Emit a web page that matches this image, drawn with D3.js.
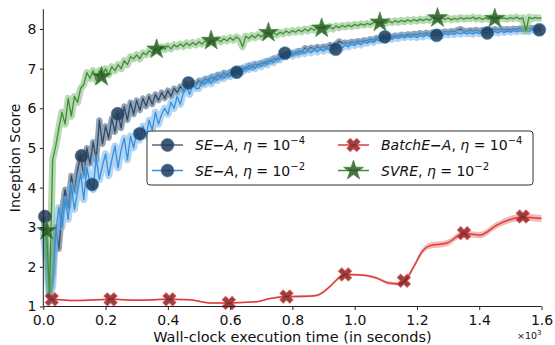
<!DOCTYPE html>
<html><head><meta charset="utf-8">
<script src="https://cdn.jsdelivr.net/npm/d3@7"></script>
<style>body{margin:0;background:#fff}svg{display:block;font-family:"DejaVu Sans",sans-serif}</style>
</head><body><svg id="c" width="555" height="345"></svg>
<script>
// ---------- data (time in 10^3 s) ----------
const step = 0.01; // sampling of the noisy series
const seA4 = [3.27,2.5,1.3,1.8,3.0,2.45,3.4,3.95,3.5,4.3,
3.9,4.45,4.8,4.3,5.0,4.6,5.15,4.7,5.7,5.1,
5.55,5.25,5.75,5.4,5.86,5.5,6.05,5.7,6.15,5.85,
6.2,5.95,6.25,6.05,6.3,6.1,6.35,6.2,6.4,6.25,
6.45,6.3,6.5,6.4,6.55,6.45,6.62,6.55,6.64,6.6,
6.7,6.62,6.75,6.68,6.8,6.72,6.85,6.78,6.9,6.82,
6.92,6.88,6.98,6.92,7.02,6.98,7.08,7.02,7.12,7.08,
7.15,7.12,7.2,7.18,7.26,7.22,7.32,7.3,7.38,7.35,
7.4,7.38,7.45,7.42,7.52,7.48,7.53,7.5,7.55,7.52,
7.56,7.54,7.6,7.57,7.62,7.69,7.64,7.66,7.64,7.68,
7.66,7.7,7.68,7.72,7.7,7.75,7.72,7.78,7.75,7.8,
7.78,7.82,7.8,7.84,7.82,7.86,7.83,7.87,7.85,7.88,
7.86,7.9,7.87,7.91,7.88,7.92,7.9,7.93,7.91,7.94,
7.92,7.95,7.93,7.98,8.0,7.96,7.94,7.97,7.95,7.98,
7.95,7.98,7.96,7.99,7.97,8.0,7.97,8.01,7.98,8.0,
7.98,8.01,7.99,8.02,8.0,8.02,8.0,8.03,8.01,8.02,
8.01];
const seA2 = [2.9,2.0,1.25,1.5,2.9,3.5,3.0,3.7,3.2,4.05,
3.45,3.9,4.35,3.7,4.5,4.1,3.95,4.75,4.2,4.55,
4.85,4.3,4.7,5.05,4.5,4.95,5.25,4.7,5.3,5.0,
5.4,5.2,5.55,5.3,5.7,5.45,5.9,5.6,5.85,6.0,
5.85,6.15,6.0,6.3,6.1,6.4,6.55,6.35,6.6,6.5,
6.5,6.7,6.6,6.75,6.62,6.8,6.7,6.85,6.75,6.88,
6.8,6.95,6.9,7.0,6.92,7.05,6.98,7.1,7.0,7.12,
7.05,7.18,7.1,7.22,7.15,7.28,7.22,7.35,7.3,7.38,
7.32,7.42,7.35,7.44,7.38,7.46,7.4,7.48,7.42,7.5,
7.44,7.52,7.46,7.49,7.5,7.56,7.52,7.6,7.55,7.63,
7.58,7.66,7.6,7.68,7.64,7.7,7.66,7.74,7.7,7.78,
7.75,7.8,7.74,7.8,7.76,7.82,7.78,7.84,7.79,7.83,
7.78,7.85,7.8,7.86,7.82,7.84,7.84,7.88,7.83,7.89,
7.85,7.9,7.86,7.91,7.87,7.92,7.88,7.9,7.87,7.92,
7.88,7.93,7.89,7.9,7.91,7.94,7.9,7.95,7.91,7.96,
7.92,7.97,7.93,7.96,7.94,7.98,7.93,7.99,7.95,7.98,
7.97];
const svre = [2.9,2.95,1.35,4.7,5.05,5.5,5.9,5.6,6.25,5.8,
6.3,6.15,6.5,6.6,6.9,6.75,6.95,6.7,6.95,6.8,
7.0,6.85,7.05,6.95,7.1,7.0,7.2,7.1,7.3,7.25,
7.35,7.25,7.4,7.35,7.45,7.4,7.5,7.45,7.55,7.48,
7.58,7.5,7.6,7.55,7.62,7.56,7.65,7.58,7.66,7.6,
7.68,7.62,7.7,7.64,7.71,7.66,7.74,7.68,7.76,7.7,
7.78,7.72,7.8,7.74,7.55,7.82,7.76,7.84,7.78,7.86,
7.8,7.88,7.91,7.86,7.9,7.85,7.92,7.88,7.95,7.9,
7.96,7.92,7.98,7.93,8.0,7.95,8.02,7.97,8.03,8.02,
8.05,7.98,8.06,8.0,8.08,8.03,8.09,8.05,8.1,8.06,
8.12,8.08,8.13,8.1,8.14,8.11,8.16,8.17,8.15,8.18,
8.14,8.2,8.16,8.21,8.17,8.22,8.18,8.23,8.19,8.24,
8.2,8.25,8.21,8.26,8.22,8.27,8.28,8.25,8.29,8.24,
8.28,8.23,8.27,8.24,8.29,8.25,8.28,8.26,8.3,8.25,
8.29,8.24,8.28,8.25,8.3,8.26,8.29,8.27,8.28,8.25,
8.29,8.26,8.3,8.25,8.28,7.95,8.3,8.26,8.29,8.27,
8.28];
const batchT = [0.02,0.027,0.1,0.216,0.3,0.405,0.47,0.535,0.596,0.685,0.728,0.78,0.846,0.878,0.92,0.953,0.969,1.03,1.07,1.11,1.14,1.16,1.188,1.22,1.24,1.296,1.351,1.402,1.456,1.51,1.54,1.6];
const batchY = [1.17,1.18,1.15,1.18,1.16,1.18,1.17,1.09,1.09,1.12,1.2,1.25,1.26,1.28,1.5,1.75,1.81,1.79,1.72,1.59,1.57,1.63,1.98,2.42,2.53,2.6,2.84,2.8,3.05,3.22,3.25,3.22];
const batchSd = [0.02,0.02,0.02,0.02,0.02,0.02,0.02,0.02,0.02,0.02,0.02,0.03,0.03,0.03,0.03,0.03,0.03,0.03,0.03,0.04,0.04,0.05,0.06,0.07,0.08,0.08,0.08,0.08,0.08,0.09,0.09,0.09];
// marker positions
const mkSeA4 = [[0.005,3.27],[0.123,4.80],[0.239,5.86]];
const mkSeA2 = [[0.157,4.08],[0.31,5.36],[0.466,6.64],[0.621,6.91],[0.776,7.39],[0.939,7.49],[1.097,7.80],[1.263,7.84],[1.426,7.90],[1.593,7.98]];
const mkSvre = [[0.011,2.91],[0.187,6.80],[0.364,7.49],[0.539,7.71],[0.723,7.91],[0.894,8.02],[1.081,8.17],[1.266,8.28],[1.45,8.26]];
const mkBatch = [[0.027,1.18],[0.216,1.18],[0.405,1.18],[0.596,1.09],[0.781,1.25],[0.969,1.81],[1.158,1.65],[1.351,2.85],[1.54,3.27]];
const xTicks = [0,0.2,0.4,0.6,0.8,1.0,1.2,1.4,1.6];
const yTicks = [1,2,3,4,5,6,7,8];

// ---------- drawing ----------
const svg = d3.select("#c");
const x = d3.scaleLinear().domain([0,1.6]).range([43.3,541.5]);
const y = d3.scaleLinear().domain([1,8.5]).range([306.5,9.2]);
const F = "DejaVu Sans";

const C = {
  dk:{line:"#2f4b68", band:"#4a6584", mk:"#1f3b58"},
  lb:{line:"#3490dc", band:"#6fb0e6", mk:"#1f3b58"},
  gr:{line:"#3f8f35", band:"#7bb872", mk:"#1f4f1a"},
  rd:{line:"#df3b3b", band:"#ee9a9a", mk:"#7a2424"}
};

const plot = svg.append("g");
function noisy(vals, col, bandW, bandOp){
  const pts = vals.map((v,i)=>[x(i*step), y(v)]);
  const ln = d3.line();
  plot.append("path").attr("d", ln(pts)).attr("fill","none")
    .attr("stroke", col.band).attr("stroke-opacity", bandOp).attr("stroke-width", bandW).attr("stroke-linejoin","round");
  plot.append("path").attr("d", ln(pts)).attr("fill","none")
    .attr("stroke", col.line).attr("stroke-width", 1.3).attr("stroke-linejoin","round");
}
noisy(seA4, C.dk, 6, 0.6);
noisy(seA2, C.lb, 7, 0.55);

// red smooth with band
const rd = batchT.map((t,i)=>({t, v:batchY[i], s:batchSd[i]}));
plot.append("path").datum(rd)
  .attr("d", d3.area().curve(d3.curveMonotoneX).x(d=>x(d.t)).y0(d=>y(d.v-d.s)).y1(d=>y(d.v+d.s)))
  .attr("fill", C.rd.band).attr("fill-opacity", 0.7);
plot.append("path").datum(rd)
  .attr("d", d3.line().curve(d3.curveMonotoneX).x(d=>x(d.t)).y(d=>y(d.v)))
  .attr("fill","none").attr("stroke", C.rd.line).attr("stroke-width", 1.5);

noisy(svre, C.gr, 7, 0.55);

// markers
function circles(data, edge){
  plot.selectAll(null).data(data).enter().append("circle")
    .attr("cx", d=>x(d[0])).attr("cy", d=>y(d[1])).attr("r", 6.5)
    .attr("fill", C.dk.mk).attr("fill-opacity", 0.85).attr("stroke", edge).attr("stroke-opacity",0.6).attr("stroke-width", 1);
}
circles(mkSeA4, C.dk.band);
circles(mkSeA2, C.lb.line);
const star = d3.symbol().type(d3.symbolStar).size(120);
plot.selectAll(null).data(mkSvre).enter().append("path")
  .attr("d", star).attr("transform", d=>`translate(${x(d[0])},${y(d[1])})`)
  .attr("fill", C.gr.mk).attr("fill-opacity", 0.8).attr("stroke", C.gr.line).attr("stroke-width", 0.8);
const cross = d3.symbol().type(d3.symbolCross).size(105);
plot.selectAll(null).data(mkBatch).enter().append("path")
  .attr("d", cross).attr("transform", d=>`translate(${x(d[0])},${y(d[1])}) rotate(45)`)
  .attr("fill", C.rd.mk).attr("fill-opacity", 0.85).attr("stroke", C.rd.line).attr("stroke-opacity",0.7).attr("stroke-width", 1.2);

// axes
const ax = svg.append("g").attr("transform", `translate(0,${y(1)})`)
  .call(d3.axisBottom(x).tickValues(xTicks).tickFormat(d3.format(".1f")).tickSize(3.5).tickPadding(5.5));
const ay = svg.append("g").attr("transform", `translate(${x(0)},0)`)
  .call(d3.axisLeft(y).tickValues(yTicks).tickFormat(d3.format("d")).tickSize(3.5).tickPadding(3.5));
[ax, ay].forEach(g=>{
  g.select(".domain").attr("stroke","#222").attr("stroke-width",1);
  g.selectAll(".tick line").attr("stroke","#222");
  g.selectAll(".tick text").attr("fill","#111").style("font-family",F).style("font-size","14px");
});
ax.select(".domain").attr("d", `M${x(0)},0H${x(1.6)}`);
ay.select(".domain").attr("d", `M0,${y(1)}V${y(8.5)}`);

svg.append("text").attr("x", (x(0)+x(1.6))/2).attr("y", 341.5).attr("text-anchor","middle")
  .style("font-family",F).style("font-size","14.5px").attr("fill","#111")
  .text("Wall-clock execution time (in seconds)");
svg.append("text").attr("transform", `translate(19.5,${(y(1)+y(8.5))/2}) rotate(-90)`).attr("text-anchor","middle")
  .style("font-family",F).style("font-size","14px").attr("fill","#111").text("Inception Score");
const mul = svg.append("text").attr("x", 541.5).attr("y", 339).attr("text-anchor","end")
  .style("font-family",F).style("font-size","9.5px").attr("fill","#111");
mul.append("tspan").text("×10");
mul.append("tspan").attr("dy",-4).style("font-size","7px").text("3");

// legend
const lg = svg.append("g");
lg.append("rect").attr("x",147).attr("y",131).attr("width",386).attr("height",54).attr("rx",3)
  .attr("fill","#fff").attr("fill-opacity",0.85).attr("stroke","#333").attr("stroke-width",1);
const entries = [
  {x0:152, yy:145, name:"SE", eta:"−4", col:C.dk, mk:"circle"},
  {x0:152, yy:170.5, name:"SE", eta:"−2", col:C.lb, mk:"circle"},
  {x0:338, yy:145, name:"BatchE", eta:"−4", col:C.rd, mk:"x"},
  {x0:338, yy:170.5, name:"SVRE", eta:"−2", col:C.gr, mk:"star"}
];
entries.forEach(e=>{
  lg.append("line").attr("x1",e.x0).attr("x2",e.x0+31).attr("y1",e.yy).attr("y2",e.yy)
    .attr("stroke", e.col===C.dk ? "#4f6a86" : e.col.line).attr("stroke-width",1.5);
  const cx = e.x0+15.5;
  if(e.mk==="circle") lg.append("circle").attr("cx",cx).attr("cy",e.yy).attr("r",6.5)
      .attr("fill",C.dk.mk).attr("fill-opacity",0.85).attr("stroke", e.col===C.dk?C.dk.band:C.lb.line).attr("stroke-opacity",0.6);
  else if(e.mk==="star") lg.append("path").attr("d",star).attr("transform",`translate(${cx},${e.yy})`)
      .attr("fill",C.gr.mk).attr("fill-opacity",0.8).attr("stroke",C.gr.line).attr("stroke-width",0.8);
  else lg.append("path").attr("d",cross).attr("transform",`translate(${cx},${e.yy}) rotate(45)`)
      .attr("fill",C.rd.mk).attr("fill-opacity",0.85).attr("stroke",C.rd.line).attr("stroke-opacity",0.7).attr("stroke-width",1.2);
  const t = lg.append("text").attr("x", e.x0+43).attr("y", e.yy+5).style("font-family",F).style("font-size","14px").attr("fill","#111");
  if(e.name==="SE"){
    t.append("tspan").style("font-style","italic").text("SE");
    t.append("tspan").style("font-weight","bold").text("−");
    t.append("tspan").style("font-style","italic").text("A");
  } else if(e.name==="BatchE"){
    t.append("tspan").style("font-style","italic").text("BatchE");
    t.append("tspan").style("font-weight","bold").text("−");
    t.append("tspan").style("font-style","italic").text("A");
  } else {
    t.append("tspan").style("font-style","italic").text("SVRE");
  }
  t.append("tspan").text(", ");
  t.append("tspan").style("font-style","italic").text("η");
  t.append("tspan").text(" = 10");
  t.append("tspan").attr("dy",-6).style("font-size","10px").text(e.eta);
});
</script></body></html>
